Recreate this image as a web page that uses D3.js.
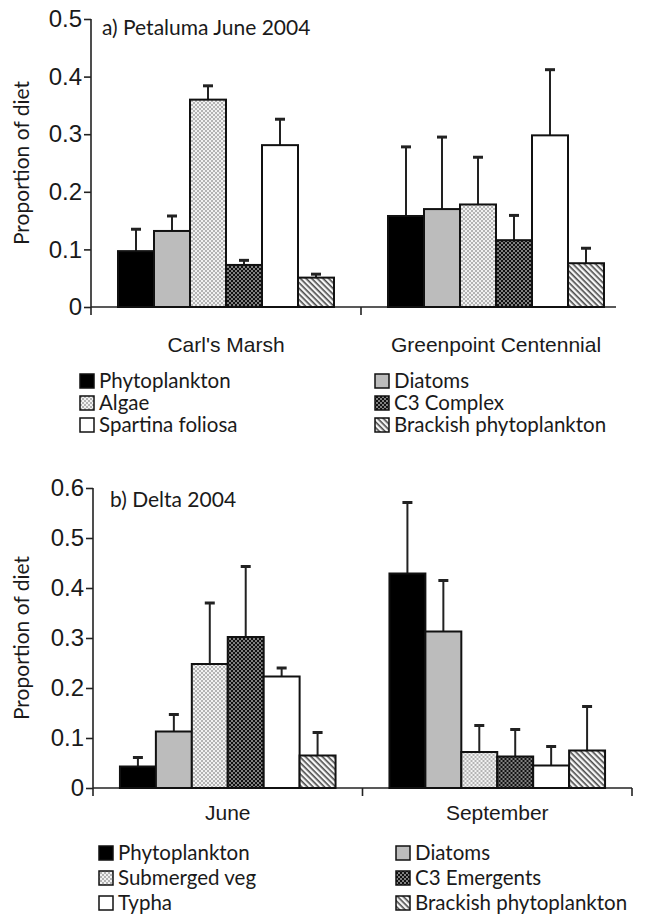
<!DOCTYPE html>
<html>
<head>
<meta charset="utf-8">
<script src="https://cdn.jsdelivr.net/npm/d3@7/dist/d3.min.js"></script>
<style>
  html, body { margin: 0; padding: 0; background: #fff; }
  svg { display: block; font-family: Lato, "Open Sans", sans-serif; }
</style>
</head>
<body>
<svg id="chart" width="647" height="921"></svg>
<script>
// ---------- data ----------
const seriesKeys = ["phyto", "diatoms", "dotLight", "dotDark", "white", "hatch"];

const topTitle = "a) Petaluma June 2004";
const topCategories = ["Carl's Marsh", "Greenpoint Centennial"];
const topSeries = ["Phytoplankton", "Diatoms", "Algae", "C3 Complex", "Spartina foliosa", "Brackish phytoplankton"];
const topMeans = [
  [0.097, 0.132, 0.360, 0.073, 0.281, 0.051],
  [0.158, 0.170, 0.178, 0.116, 0.298, 0.076]
];
const topErrors = [
  [0.038, 0.026, 0.024, 0.008, 0.045, 0.006],
  [0.120, 0.125, 0.082, 0.043, 0.114, 0.026]
];
const topTicks = [0, 0.1, 0.2, 0.3, 0.4, 0.5];

const bottomTitle = "b) Delta 2004";
const bottomCategories = ["June", "September"];
const bottomSeries = ["Phytoplankton", "Diatoms", "Submerged veg", "C3 Emergents", "Typha", "Brackish phytoplankton"];
const bottomMeans = [
  [0.043, 0.113, 0.248, 0.302, 0.223, 0.065],
  [0.429, 0.313, 0.072, 0.063, 0.045, 0.075]
];
const bottomErrors = [
  [0.018, 0.034, 0.122, 0.141, 0.017, 0.046],
  [0.142, 0.102, 0.053, 0.054, 0.038, 0.088]
];
const bottomTicks = [0, 0.1, 0.2, 0.3, 0.4, 0.5, 0.6];

const yLabel = "Proportion of diet";

// ---------- patterns ----------
const svg = d3.select("#chart");
const defs = svg.append("defs");

function checker(id, a, b) {
  const p = defs.append("pattern").attr("id", id).attr("patternUnits", "userSpaceOnUse")
    .attr("width", 4).attr("height", 4);
  p.append("rect").attr("width", 4).attr("height", 4).attr("fill", a).attr("shape-rendering", "crispEdges");
  p.append("rect").attr("width", 2).attr("height", 2).attr("fill", b).attr("shape-rendering", "crispEdges");
  p.append("rect").attr("x", 2).attr("y", 2).attr("width", 2).attr("height", 2).attr("fill", b).attr("shape-rendering", "crispEdges");
}
checker("dotLight", "#f2f2f2", "#b4b4b4");
checker("dotDark", "#808080", "#111");
const hp = defs.append("pattern").attr("id", "hatch").attr("patternUnits", "userSpaceOnUse")
  .attr("width", 4).attr("height", 4).attr("patternTransform", "rotate(45)");
hp.append("rect").attr("width", 4).attr("height", 4).attr("fill", "#f6f6f6");
hp.append("rect").attr("width", 4).attr("height", 1.6).attr("fill", "#4a4a4a");

const fills = {
  phyto: "#000",
  diatoms: "#bcbcbc",
  dotLight: "url(#dotLight)",
  dotDark: "url(#dotDark)",
  white: "#fff",
  hatch: "url(#hatch)"
};

// ---------- panel ----------
function panel(o) {
  const g = svg.append("g");
  const y = d3.scaleLinear().domain([0, o.ymax]).range([o.y0, o.yTop]);
  const x0 = d3.scaleBand().domain(o.categories).range([o.xLeft, o.xRight]).padding(0);
  const x1 = d3.scaleBand().domain(d3.range(o.series.length)).range([0, x0.bandwidth()])
    .paddingInner(0).paddingOuter(0.75);

  // y axis
  const ya = d3.axisLeft(y).tickValues(o.ticks).tickSize(7).tickSizeOuter(0)
    .tickFormat(d => d === 0 ? "0" : d3.format(".1f")(d));
  const yg = g.append("g").attr("transform", `translate(${o.xLeft},0)`).call(ya);
  yg.select(".domain").remove();
  yg.selectAll(".tick line").attr("stroke", "#222").attr("stroke-width", 1.6);
  yg.selectAll(".tick text").attr("font-size", 24).attr("fill", "#1a1a1a").attr("x", -9);
  g.append("line").attr("x1", o.xLeft).attr("x2", o.xLeft)
    .attr("y1", y(o.ymax)).attr("y2", y(0) + 8).attr("stroke", "#222").attr("stroke-width", 1.6);

  // x axis line + band boundary ticks
  g.append("line").attr("x1", o.xLeft).attr("x2", o.xAxisEnd)
    .attr("y1", y(0)).attr("y2", y(0)).attr("stroke", "#222").attr("stroke-width", 1.6);
  const bounds = o.categories.slice(1).map(c => x0(c));
  if (o.endTick) bounds.push(o.xAxisEnd);
  g.selectAll(".btick").data(bounds).join("line")
    .attr("x1", d => d).attr("x2", d => d)
    .attr("y1", y(0)).attr("y2", y(0) + 8).attr("stroke", "#222").attr("stroke-width", 1.6);

  // category labels
  const xa = d3.axisBottom(x0).tickSize(0).tickPadding(0);
  const xg = g.append("g").attr("transform", `translate(0,${o.catY})`).call(xa);
  xg.select(".domain").remove();
  xg.selectAll(".tick text").attr("font-size", 21).attr("fill", "#1a1a1a").attr("dy", 0);

  // bars
  o.categories.forEach((c, ci) => {
    const gg = g.append("g").attr("transform", `translate(${x0(c)},0)`);
    const rows = o.means[ci].map((m, i) => ({ i, m, e: o.errors[ci][i] }));
    gg.selectAll(".err").data(rows).join("line")
      .attr("x1", d => x1(d.i) + x1.bandwidth() / 2).attr("x2", d => x1(d.i) + x1.bandwidth() / 2)
      .attr("y1", d => y(d.m)).attr("y2", d => y(d.m + d.e))
      .attr("stroke", "#222").attr("stroke-width", 2);
    gg.selectAll(".cap").data(rows).join("line")
      .attr("x1", d => x1(d.i) + x1.bandwidth() / 2 - 5).attr("x2", d => x1(d.i) + x1.bandwidth() / 2 + 5)
      .attr("y1", d => y(d.m + d.e)).attr("y2", d => y(d.m + d.e))
      .attr("stroke", "#222").attr("stroke-width", 3);
    gg.selectAll(".bar").data(rows).join("rect")
      .attr("x", d => x1(d.i)).attr("width", x1.bandwidth())
      .attr("y", d => y(d.m)).attr("height", d => y(0) - y(d.m))
      .attr("fill", d => fills[seriesKeys[d.i]])
      .attr("stroke", "#111").attr("stroke-width", 2);
  });

  // title
  g.append("text").attr("x", o.titleX).attr("y", o.titleY).attr("font-size", 21)
    .attr("fill", "#1a1a1a").text(o.title);

  // y label
  g.append("text").attr("transform", `translate(29,${(y(0) + y(o.ymax)) / 2}) rotate(-90)`)
    .attr("text-anchor", "middle").attr("font-size", 21).attr("fill", "#1a1a1a").text(yLabel);

  // legend: left column series 0,2,4; right column 1,3,5
  const lg = g.append("g");
  o.series.forEach((s, i) => {
    const col = i % 2, row = Math.floor(i / 2);
    const lx = o.legendX[col], ly = o.legendY[row];
    lg.append("rect").attr("x", lx).attr("y", ly - 7).attr("width", 14).attr("height", 14)
      .attr("fill", fills[seriesKeys[i]]).attr("stroke", "#111").attr("stroke-width", 1.5);
    lg.append("text").attr("x", lx + 19).attr("y", ly).attr("dy", "0.35em")
      .attr("font-size", 20.5).attr("fill", "#1a1a1a").text(s);
  });
}

panel({
  title: topTitle, titleX: 102, titleY: 35,
  categories: topCategories, series: topSeries, means: topMeans, errors: topErrors,
  ticks: topTicks, ymax: 0.5, y0: 307, yTop: 19,
  xLeft: 91, xRight: 631, xAxisEnd: 616, endTick: false,
  catY: 352, legendX: [80, 375], legendY: [381, 403, 425]
});

panel({
  title: bottomTitle, titleX: 110, titleY: 507,
  categories: bottomCategories, series: bottomSeries, means: bottomMeans, errors: bottomErrors,
  ticks: bottomTicks, ymax: 0.6, y0: 788, yTop: 488,
  xLeft: 93, xRight: 632, xAxisEnd: 632, endTick: true,
  catY: 820, legendX: [99, 396], legendY: [853, 878, 903]
});
</script>
</body>
</html>
